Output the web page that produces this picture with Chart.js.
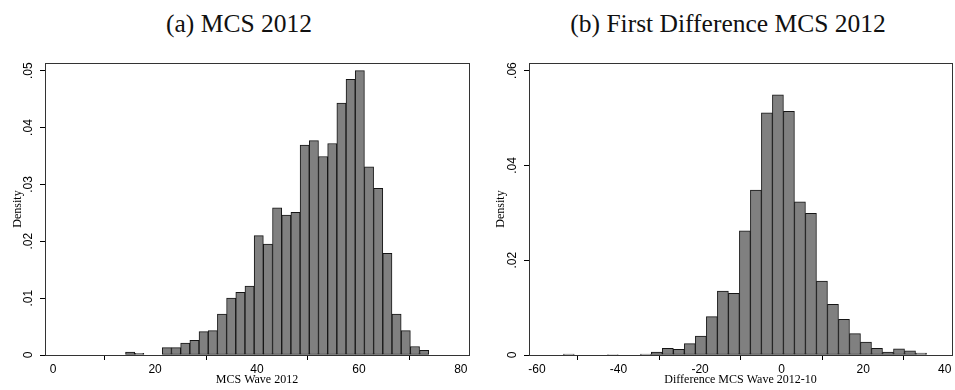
<!DOCTYPE html>
<html>
<head>
<meta charset="utf-8">
<script src="https://cdn.jsdelivr.net/npm/chart.js@4"></script>
<style>
  body { margin: 0; background: #fff; }
  #wrap { position: relative; width: 955px; height: 390px; overflow: hidden; }
  canvas { position: absolute; top: 0; }
  .cap {
    position: absolute; top: 11px; transform: translateX(-50%);
    font-family: "Liberation Serif", serif; font-size: 25.5px; line-height: 1;
    white-space: nowrap; color: #111;
  }
</style>
</head>
<body>
<div id="wrap">
  <div class="cap" style="left:239px">(a) MCS 2012</div>
  <div class="cap" style="left:728px">(b) First Difference MCS 2012</div>
  <canvas id="left" width="477" height="390" style="left:0"></canvas>
  <canvas id="right" width="478" height="390" style="left:477px"></canvas>
</div>
<script>
// (a) MCS wave 2012 histogram
const mcsBinStart = 14.2;
const mcsBinWidth = 1.803;
const mcsDensity = [0.0005, 0.0003, 0, 0, 0.0013, 0.0013, 0.0021, 0.0026, 0.0041, 0.0043,
  0.0072, 0.0100, 0.0110, 0.0121, 0.0210, 0.0195, 0.0259, 0.0246, 0.0251, 0.0369,
  0.0377, 0.0349, 0.0372, 0.0443, 0.0485, 0.0500, 0.0331, 0.0293, 0.0179, 0.0072,
  0.0043, 0.0015, 0.0008];
const mcsXTicks = [0, 20, 40, 60, 80];
const mcsYTicks = [0, 0.01, 0.02, 0.03, 0.04, 0.05];

// (b) first difference 2012-10 histogram
const diffBinStart = -53.55;
const diffBinWidth = 2.70;
const diffDensity = [0.0002, 0, 0, 0, 0.0001, 0, 0, 0.0002, 0.0006, 0.0014,
  0.0012, 0.0024, 0.0040, 0.0081, 0.0135, 0.0130, 0.0262, 0.0348, 0.0511, 0.0549,
  0.0514, 0.0323, 0.0299, 0.0156, 0.0107, 0.0075, 0.0045, 0.0027, 0.0014, 0.0006,
  0.0013, 0.0009, 0.0004];
const diffXTicks = [-60, -40, -20, 0, 20, 40];
const diffYTicks = [0, 0.02, 0.04, 0.06];

// box around the plot region (Stata style)
const frame = {
  id: 'frame',
  afterDatasetsDraw(chart) {
    const { ctx, chartArea: a } = chart;
    ctx.save();
    ctx.strokeStyle = '#333';
    ctx.lineWidth = 1;
    ctx.strokeRect(Math.round(a.left) + 0.5, Math.round(a.top) + 0.5,
      Math.round(a.right - a.left), Math.round(a.bottom - a.top));
    ctx.restore();
  }
};

function densityLabel(v) {
  return v === 0 ? '0' : v.toFixed(2).replace(/^0/, '');
}

function makeHist(id, cfg) {
  const points = cfg.density.map((d, i) => ({ x: cfg.start + cfg.width * (i + 0.5), y: d }));
  const tickFont = { family: 'Liberation Sans', size: 12 };
  const titleFont = { family: 'Liberation Serif', size: 12 };
  return new Chart(document.getElementById(id), {
    type: 'bar',
    data: {
      datasets: [{
        data: points,
        backgroundColor: '#808080',
        borderColor: '#151515',
        borderWidth: 1,
        borderSkipped: false,
        barPercentage: 1,
        categoryPercentage: 1
      }]
    },
    options: {
      responsive: false,
      animation: false,
      devicePixelRatio: 1,
      layout: { padding: { top: 63, right: cfg.padRight, left: 0, bottom: 0 } },
      plugins: { legend: { display: false }, tooltip: { enabled: false } },
      scales: {
        x: {
          type: 'linear',
          min: cfg.xMin,
          max: cfg.xMax,
          offset: false,
          afterBuildTicks: s => { s.ticks = cfg.xTicks.map(v => ({ value: v })); },
          afterFit: s => { s.height = 35; },
          grid: { display: true, drawOnChartArea: false, tickLength: 5, color: '#000' },
          border: { display: true, color: '#000', width: 1 },
          ticks: { font: tickFont, color: '#000', padding: 2, maxRotation: 0 },
          title: { display: true, text: cfg.xTitle, font: titleFont, color: '#000',
                   padding: { top: 0, bottom: 3 } }
        },
        y: {
          min: 0,
          max: cfg.yMax,
          afterBuildTicks: s => { s.ticks = cfg.yTicks.map(v => ({ value: v })); },
          afterFit: s => { s.width = cfg.yAxisWidth; },
          grid: { display: true, drawOnChartArea: false, tickLength: 5, color: '#000' },
          border: { display: true, color: '#000', width: 1 },
          ticks: { font: tickFont, color: '#000', minRotation: 90, maxRotation: 90,
                   crossAlign: 'center', callback: densityLabel },
          title: { display: true, text: 'Density', font: titleFont, color: '#000',
                   padding: { top: cfg.yTitlePad, bottom: 0 } }
        }
      }
    },
    plugins: [frame]
  });
}

makeHist('left', {
  density: mcsDensity, start: mcsBinStart, width: mcsBinWidth,
  xTicks: mcsXTicks, yTicks: mcsYTicks,
  xMin: -1.6, xMax: 81.6, yMax: 0.05135,
  xTitle: 'MCS Wave 2012', yAxisWidth: 45, yTitlePad: 11, padRight: 8
});

makeHist('right', {
  density: diffDensity, start: diffBinStart, width: diffBinWidth,
  xTicks: diffXTicks, yTicks: diffYTicks,
  xMin: -61.96, xMax: 41.8, yMax: 0.0616,
  xTitle: 'Difference MCS Wave 2012-10', yAxisWidth: 52, yTitlePad: 16.5, padRight: 3
});
</script>
</body>
</html>
